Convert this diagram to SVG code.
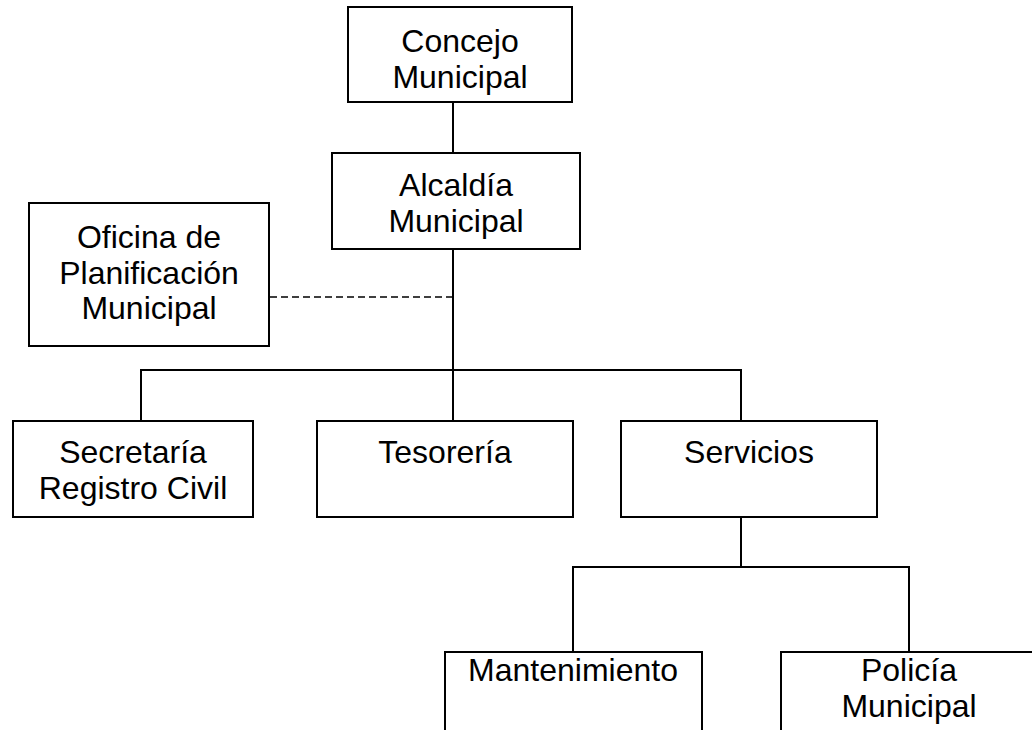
<svg xmlns="http://www.w3.org/2000/svg" width="1032" height="730" viewBox="0 0 1032 730">
<style>
.box{fill:#fff;stroke:#000;stroke-width:2}
.ln{fill:none;stroke:#000;stroke-width:2}
.dash{fill:none;stroke:#000;stroke-width:1.6;stroke-dasharray:7 4}
text{font-family:"Liberation Sans",Arial,sans-serif;font-size:32px;fill:#000;text-anchor:middle}
</style>
<rect width="1032" height="730" fill="#fff"/>
<g id="connectors">
<line class="ln" x1="453" y1="102" x2="453" y2="153"/>
<line class="ln" x1="453" y1="249" x2="453" y2="421"/>
<polyline class="ln" points="141,421 141,370 741,370 741,421"/>
<line class="ln" x1="741" y1="517" x2="741" y2="567"/>
<polyline class="ln" points="573,652 573,567 909,567 909,652"/>
<line class="dash" x1="270" y1="297" x2="453" y2="297"/>
</g>
<g id="concejo">
<rect class="box" x="348" y="7" width="224" height="95"/>
<text x="460" y="52">Concejo</text>
<text x="460" y="88">Municipal</text>
</g>
<g id="alcaldia">
<rect class="box" x="332" y="153" width="248" height="96"/>
<text x="456" y="196">Alcaldía</text>
<text x="456" y="232">Municipal</text>
</g>
<g id="oficina">
<rect class="box" x="29" y="203" width="240" height="143"/>
<text x="149" y="248">Oficina de</text>
<text x="149" y="284">Planificación</text>
<text x="149" y="319">Municipal</text>
</g>
<g id="secretaria">
<rect class="box" x="13" y="421" width="240" height="96"/>
<text x="133" y="463">Secretaría</text>
<text x="133" y="499">Registro Civil</text>
</g>
<g id="tesoreria">
<rect class="box" x="317" y="421" width="256" height="96"/>
<text x="445" y="463">Tesorería</text>
</g>
<g id="servicios">
<rect class="box" x="621" y="421" width="256" height="96"/>
<text x="749" y="463">Servicios</text>
</g>
<g id="mantenimiento">
<rect class="box" x="445" y="652" width="257" height="110"/>
<text x="573" y="681">Mantenimiento</text>
</g>
<g id="policia">
<rect class="box" x="781" y="652" width="256" height="110"/>
<text x="909" y="681">Policía</text>
<text x="909" y="717">Municipal</text>
</g>
</svg>
